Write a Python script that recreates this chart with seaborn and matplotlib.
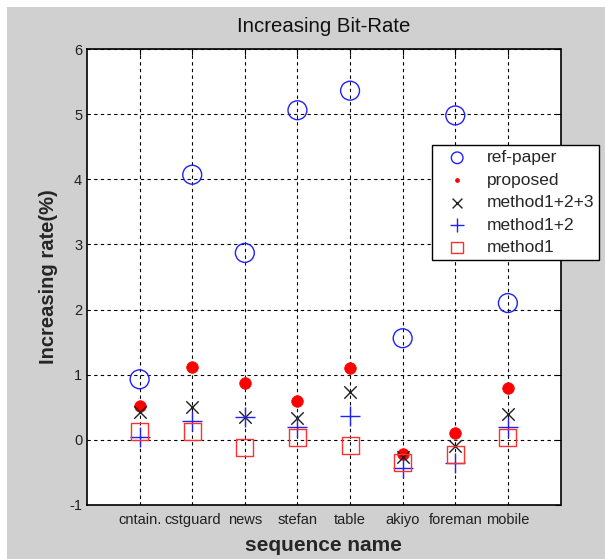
import matplotlib
matplotlib.use("Agg")
import matplotlib.pyplot as plt
import seaborn as sns
import numpy as np
from matplotlib.patches import Rectangle

sequences = ["cntain.", "cstguard", "news", "stefan", "table", "akiyo", "foreman", "mobile"]
ref_paper = [0.93, 4.07, 2.87, 5.06, 5.36, 1.56, 4.98, 2.10]
proposed = [0.52, 1.12, 0.87, 0.59, 1.11, -0.22, 0.10, 0.80]
method123 = [0.42, 0.50, 0.35, 0.33, 0.73, -0.27, -0.09, 0.40]
method12 = [0.05, 0.29, 0.35, 0.19, 0.37, -0.43, -0.36, 0.20]
method1 = [0.13, 0.13, -0.12, 0.03, -0.08, -0.34, -0.23, 0.04]
y_ticks = [-1, 0, 1, 2, 3, 4, 5, 6]

sns.set_style("white")
plt.rcParams["font.family"] = ["Liberation Sans", "DejaVu Sans"]

fig = plt.figure(figsize=(6.05, 5.59), dpi=100)
fig.patch.set_facecolor("white")
fig.patches.append(Rectangle((7 / 605, 0), 1 - 7 / 605, 1 - 7 / 559,
                             transform=fig.transFigure, facecolor="#d0d0d0",
                             edgecolor="none", zorder=-10))
ax = fig.add_axes([87 / 605, 1 - 505 / 559, (560.5 - 87) / 605, (505 - 49) / 559])
ax.set_facecolor("white")

x = np.arange(1, len(sequences) + 1)

sns.scatterplot(x=x, y=ref_paper, ax=ax, marker="o", s=185, facecolors="none",
                edgecolor="#2020ff", linewidth=1.0, label="ref-paper", zorder=3)
sns.scatterplot(x=x, y=proposed, ax=ax, marker="o", s=70, color="#ff0000",
                edgecolor="#ff0000", linewidth=0.5, label="proposed", zorder=3)
sns.scatterplot(x=x, y=method123, ax=ax, marker="x", s=80, color="#202020",
                linewidth=1.0, label="method1+2+3", zorder=3)
sns.scatterplot(x=x, y=method12, ax=ax, marker="+", s=190, color="#2020ff",
                linewidth=1.0, label="method1+2", zorder=3)
sns.scatterplot(x=x, y=method1, ax=ax, marker="s", s=150, facecolors="none",
                edgecolor="#ff3030", linewidth=1.0, label="method1", zorder=3)

ax.set_xlim(0, 9)
ax.set_ylim(-1, 6)
ax.set_xticks(x)
ax.set_xticklabels(sequences, fontsize=10.5)
ax.set_yticks(y_ticks)
ax.set_yticklabels([str(t) for t in y_ticks], fontsize=10.5)
ax.grid(True, color="black", linestyle=(0, (3, 3)), linewidth=0.8)
ax.tick_params(direction="in", length=4, top=True, right=True, color="black",
               labelcolor="#202020")
ax.tick_params(axis="x", pad=6)
for sp in ax.spines.values():
    sp.set_visible(True)
    sp.set_color("black")
    sp.set_linewidth(1.2)

ax.set_title("Increasing Bit-Rate", fontsize=14.7, pad=12, color="#101010")
ax.set_xlabel("sequence name", fontsize=15, fontweight="bold", labelpad=6)
ax.set_ylabel("Increasing rate(%)", fontsize=14.5, fontweight="bold", labelpad=8)

handles, labels = ax.get_legend_handles_labels()
if ax.legend_:
    ax.legend_.remove()
leg = fig.legend(handles, labels, loc="upper left",
                 bbox_to_anchor=(432 / 605, 1 - 145 / 559),
                 fontsize=12.5, frameon=True, fancybox=False, framealpha=1,
                 edgecolor="black", handlelength=2.3, handletextpad=0.55,
                 borderpad=0.3, labelspacing=0.42, borderaxespad=0)
leg.get_frame().set_linewidth(1.0)
legend_sizes = [70, 8, 50, 110, 70]
for h, sz in zip(leg.legend_handles, legend_sizes):
    h.set_sizes([sz])

fig.savefig("out.png", dpi=100, facecolor=fig.get_facecolor())
